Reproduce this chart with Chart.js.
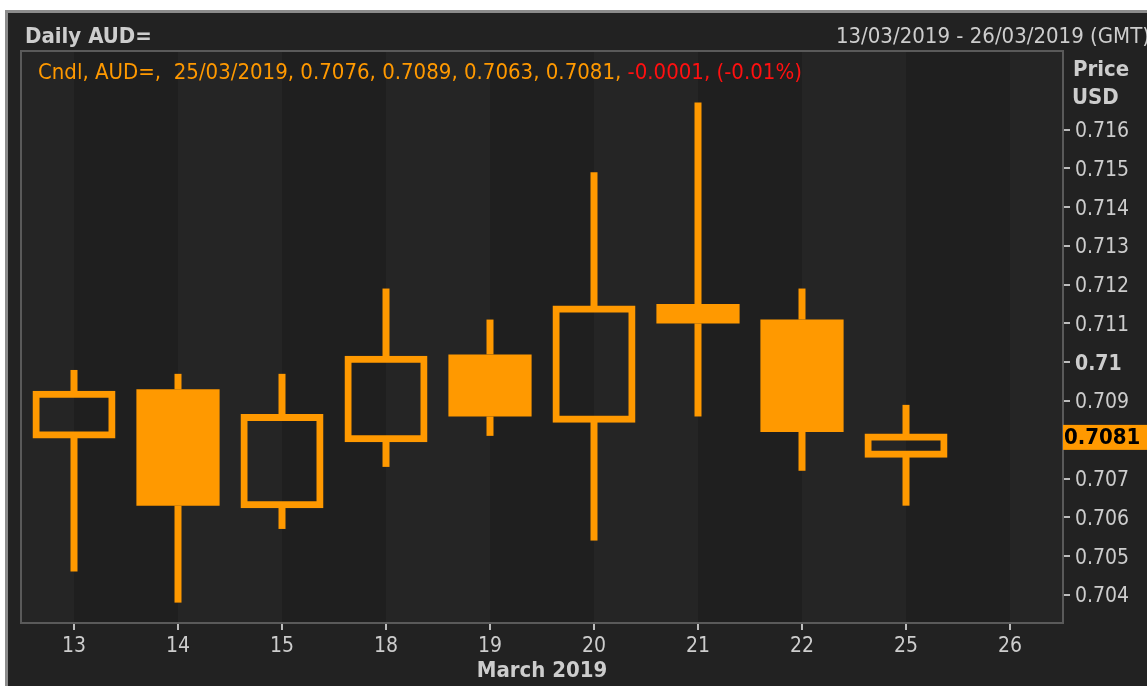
<!DOCTYPE html>
<html>
<head>
<meta charset="utf-8">
<title>Daily AUD=</title>
<script src="https://cdn.jsdelivr.net/npm/chart.js@4.4.1/dist/chart.umd.min.js"></script>
<style>
  html, body { margin: 0; padding: 0; background: #222; overflow: hidden; }
  canvas { display: block; }
</style>
</head>
<body>
<canvas id="aud-chart" width="1147" height="686"></canvas>
<script>
// Daily AUD= candles, 13/03/2019 - 26/03/2019
const days   = ['13', '14', '15', '18', '19', '20', '21', '22', '25', '26'];
const opens  = [0.7081, 0.7093, 0.7063, 0.7080, 0.7102, 0.7085, 0.7115, 0.7111, 0.7076, null];
const highs  = [0.7098, 0.7097, 0.7097, 0.7119, 0.7111, 0.7149, 0.7167, 0.7119, 0.7089, null];
const lows   = [0.7046, 0.7038, 0.7057, 0.7073, 0.7081, 0.7054, 0.7086, 0.7072, 0.7063, null];
const closes = [0.7092, 0.7063, 0.7086, 0.7101, 0.7086, 0.7114, 0.7110, 0.7082, 0.7081, null];
const priceTicks = [0.704, 0.705, 0.706, 0.707, 0.708, 0.709, 0.710, 0.711, 0.712, 0.713, 0.714, 0.715, 0.716];

const ORANGE = '#ff9900';
const RED    = '#ff1010';
const TEXT   = '#cdcdcd';
const FONT   = "'DejaVu Sans Condensed', 'DejaVu Sans', sans-serif";

const has   = i => opens[i] != null;
const isUp  = i => has(i) && closes[i] >= opens[i];

const upperWick  = days.map((d, i) => has(i) ? [Math.max(opens[i], closes[i]), highs[i]] : null);
const lowerWick  = days.map((d, i) => has(i) ? [lows[i], Math.min(opens[i], closes[i])] : null);
const hollowBody = days.map((d, i) => isUp(i) ? [opens[i], closes[i]] : null);
const solidBody  = days.map((d, i) => has(i) && !isUp(i) ? [opens[i], closes[i]] : null);

let last = 0;
closes.forEach((c, i) => { if (c != null) last = i; });

// background, stripes, frame and header texts
const decor = {
  id: 'decor',
  beforeDraw(chart) {
    const { ctx, chartArea: a, scales: { x } } = chart;
    ctx.save();
    ctx.fillStyle = '#222222';
    ctx.fillRect(0, 0, chart.width, chart.height);
    ctx.fillStyle = '#ffffff';
    ctx.fillRect(0, 0, chart.width, 10);
    ctx.fillRect(0, 0, 5, chart.height);
    ctx.fillStyle = '#8c8c8c';
    ctx.fillRect(5, 10, chart.width, 3);
    ctx.fillRect(5, 10, 3, chart.height);

    // vertical bands between category centres
    let prev = a.left;
    for (let i = 0; i <= days.length; i++) {
      const next = i < days.length ? x.getPixelForValue(i) : a.right;
      ctx.fillStyle = i % 2 === 0 ? '#252525' : '#1f1f1f';
      ctx.fillRect(prev, a.top, next - prev, a.bottom - a.top);
      prev = next;
    }
    ctx.restore();
  },
  afterDraw(chart) {
    const { ctx, chartArea: a, scales: { y } } = chart;
    ctx.save();
    ctx.strokeStyle = '#5a5a5a';
    ctx.lineWidth = 2;
    ctx.strokeRect(a.left - 1, a.top - 1, a.right - a.left + 2, a.bottom - a.top + 2);

    ctx.textBaseline = 'alphabetic';
    ctx.fillStyle = TEXT;
    ctx.font = `bold 22px ${FONT}`;
    ctx.textAlign = 'left';
    ctx.fillText('Daily AUD=', 25, 43);
    ctx.font = `22px ${FONT}`;
    ctx.textAlign = 'right';
    ctx.fillText('13/03/2019 - 26/03/2019 (GMT)', 1150, 43);

    ctx.textAlign = 'left';
    ctx.font = `bold 22px ${FONT}`;
    ctx.fillText('Price', 1073, 76);
    ctx.fillText('USD', 1072, 104);

    // info line for the last candle
    const chg = closes[last] - closes[last - 1];
    const pct = chg / closes[last - 1] * 100;
    const info = `Cndl, AUD=,  ${days[last]}/03/2019, ${opens[last].toFixed(4)}, ${highs[last].toFixed(4)}, ${lows[last].toFixed(4)}, ${closes[last].toFixed(4)}, `;
    ctx.font = `22px ${FONT}`;
    ctx.fillStyle = ORANGE;
    ctx.fillText(info, 38, 79);
    const w = ctx.measureText(info).width;
    ctx.fillStyle = RED;
    ctx.fillText(`${chg.toFixed(4)}, (${pct.toFixed(2)}%)`, 38 + w, 79);

    // last price tag
    const py = y.getPixelForValue(closes[last]);
    ctx.fillStyle = ORANGE;
    ctx.fillRect(a.right + 1, py - 11, chart.width - a.right, 25);
    ctx.fillStyle = '#000000';
    ctx.font = `bold 22px ${FONT}`;
    ctx.textBaseline = 'middle';
    ctx.fillText(closes[last].toFixed(4), a.right + 2, py + 2);
    ctx.restore();
  }
};

const common = { grouped: false, categoryPercentage: 1, borderSkipped: false };

new Chart(document.getElementById('aud-chart'), {
  type: 'bar',
  data: {
    labels: days,
    datasets: [
      { ...common, label: 'upper wick', data: upperWick, barThickness: 7, backgroundColor: ORANGE, borderWidth: 0, inflateAmount: 0 },
      { ...common, label: 'lower wick', data: lowerWick, barThickness: 7, backgroundColor: ORANGE, borderWidth: 0, inflateAmount: 0 },
      { ...common, label: 'up', data: hollowBody, barPercentage: 0.75, backgroundColor: 'rgba(0,0,0,0)',
        borderColor: ORANGE, borderWidth: 2, inflateAmount: 2.5 },
      { ...common, label: 'down', data: solidBody, barPercentage: 0.8, backgroundColor: ORANGE, borderWidth: 0, inflateAmount: 0 },
    ],
  },
  options: {
    responsive: false,
    animation: false,
    layout: { padding: { left: 22, top: 52, right: 0, bottom: 0 } },
    plugins: {
      legend: { display: false },
      tooltip: { enabled: false },
    },
    scales: {
      x: {
        offset: true,
        grid: { offset: false, drawOnChartArea: false, tickLength: 8, color: '#bdbdbd', lineWidth: 2 },
        border: { display: false },
        ticks: { color: TEXT, font: { family: FONT, size: 21 }, padding: 4, maxRotation: 0, autoSkip: false },
        title: { display: true, text: 'March 2019', color: TEXT, font: { family: FONT, size: 22, weight: 'bold' }, padding: { top: 0, bottom: 2 } },
        afterFit: s => { s.height = 64; },
      },
      y: {
        position: 'right',
        min: 0.7033,
        max: 0.7180,
        afterBuildTicks: s => { s.ticks = priceTicks.map(v => ({ value: v })); },
        afterFit: s => { s.width = 85; },
        grid: { drawOnChartArea: false, tickLength: 8, color: '#bdbdbd', lineWidth: 2 },
        border: { display: false },
        ticks: {
          color: TEXT,
          padding: 5,
          labelOffset: 2,
          font: c => ({ family: FONT, size: 21, weight: c.tick && Math.abs(c.tick.value - 0.71) < 1e-9 ? 'bold' : 'normal' }),
          callback: v => String(parseFloat(v.toFixed(4))),
        },
      },
    },
  },
  plugins: [decor],
});
</script>
</body>
</html>
